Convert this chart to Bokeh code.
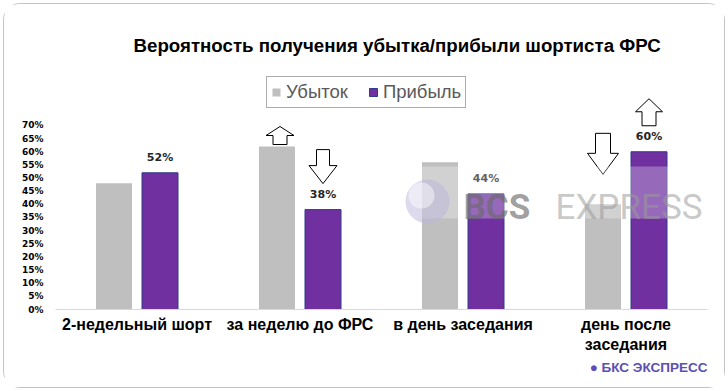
from bokeh.plotting import figure
from bokeh.models import (ColumnDataSource, FactorRange, Range1d, FixedTicker,
                          NumeralTickFormatter, Legend, LegendItem, Title)
from bokeh.transform import dodge
from bokeh.core.properties import value
from bokeh.embed import file_html
from bokeh.resources import INLINE

# ---------------- data ----------------
title_text = "Вероятность получения убытка/прибыли шортиста ФРС"
categories = ["2-недельный шорт", "за неделю до ФРС", "в день заседания", "день после\nзаседания"]
series_names = ["Убыток", "Прибыль"]
loss = [0.48, 0.62, 0.56, 0.40]
profit = [0.52, 0.38, 0.44, 0.60]
profit_labels = ["52%", "38%", "44%", "60%"]
y_ticks = [0.0, 0.05, 0.10, 0.15, 0.20, 0.25, 0.30, 0.35, 0.40, 0.45, 0.50, 0.55, 0.60, 0.65, 0.70]
# arrows: (category index, series, direction)
arrow_marks = [(1, "loss", "up"), (1, "profit", "down"), (3, "loss", "down"), (3, "profit", "up")]
watermark_words = ["BCS", "EXPRESS"]
brand_text = "● БКС ЭКСПРЕСС"

# ---------------- layout ----------------
M = 4                            # css margin around the figure
W, H = 728 - 2 * M, 391 - 2 * M
BL, BT = 55 - M, 60 - M
FW = 652
BR = W - BL - FW
BB = H - (309 - M)
FH = H - BT - BB
PX_Y = 262.9                     # pixels per 1.0 (100%)
PX_X = FW / len(categories)      # pixels per category
Y_END = FH / PX_Y
X0, Y0 = 55, 309                 # frame left / bottom in page pixels

def dx(px):
    return px / PX_X

def dy(px):
    return px / PX_Y

GREY = "#BFBFBF"
PURPLE = "#7030A0"
OFF = dx(23)
BAR_W = dx(36)

src = ColumnDataSource(dict(cat=categories, loss=loss, profit=profit, lbl=profit_labels))

p = figure(width=W, height=H, x_range=FactorRange(*categories, range_padding=0),
           y_range=Range1d(0, Y_END), output_backend="svg", toolbar_location=None,
           min_border_left=BL, min_border_right=BR, min_border_top=BT, min_border_bottom=BB)
p.x_range.range_padding = 0
p.background_fill_color = "white"
p.border_fill_color = "white"
p.outline_line_color = None
p.xgrid.visible = False
p.ygrid.visible = False
p.styles = {"margin": f"{M}px", "outline": "1px solid #C4C4C4", "outline-offset": "0px",
            "border-radius": "16px"}

r_loss = p.vbar(x=dodge("cat", -OFF, range=p.x_range), top="loss", width=BAR_W, source=src,
                fill_color=GREY, line_color=None)
r_profit = p.vbar(x=dodge("cat", OFF, range=p.x_range), top="profit", width=BAR_W, source=src,
                  fill_color=PURPLE, line_color="#2F3C8C", line_width=1)

p.text(x=dodge("cat", OFF, range=p.x_range), y="profit", text="lbl", source=src,
       y_offset=-15, text_align="center", text_baseline="middle",
       text_font=value("DejaVu Sans"), text_font_style="bold", text_font_size="11px",
       text_color="#262626")

# arrows
arrow_style = {
    (1, "loss"): dict(gap=2, L=18, Hh=9, Wh=28, Ws=14, sx=3),
    (1, "profit"): dict(gap=26, L=34, Hh=18, Wh=28, Ws=13, sx=0),
    (3, "loss"): dict(gap=30, L=41, Hh=21, Wh=31, Ws=15, sx=0),
    (3, "profit"): dict(gap=26, L=27, Hh=13, Wh=27, Ws=14, sx=0),
}
xs, ys = [], []
for ci, ser, direction in arrow_marks:
    st = arrow_style[(ci, ser)]
    xc = ci + 0.5 + (-OFF if ser == "loss" else OFF) + dx(st["sx"])
    top = loss[ci] if ser == "loss" else profit[ci]
    L, Hh, Wh, Ws = st["L"], st["Hh"], st["Wh"], st["Ws"]
    yb = top + dy(st["gap"])
    if direction == "up":
        pts = [(-Ws / 2, 0), (Ws / 2, 0), (Ws / 2, L - Hh), (Wh / 2, L - Hh), (0, L),
               (-Wh / 2, L - Hh), (-Ws / 2, L - Hh)]
    else:
        pts = [(0, 0), (Wh / 2, Hh), (Ws / 2, Hh), (Ws / 2, L), (-Ws / 2, L),
               (-Ws / 2, Hh), (-Wh / 2, Hh)]
    xs.append([xc + dx(a) for a, b in pts])
    ys.append([yb + dy(b) for a, b in pts])
p.patches(xs, ys, fill_color="white", line_color="black", line_width=1)

# watermark
p.quad(left=dx(395 - X0), right=len(categories), bottom=dy(Y0 - 218), top=dy(Y0 - 166),
       fill_color="white", fill_alpha=0.28, line_color=None)
p.scatter(x=[dx(427 - X0)], y=[dy(Y0 - 201)], size=44, marker="circle",
          fill_color="#BDB6DD", fill_alpha=0.5, line_color=None)
p.scatter(x=[dx(421 - X0)], y=[dy(Y0 - 195)], size=26, marker="circle",
          fill_color="white", fill_alpha=0.45, line_color=None)
p.text(x=[dx(463 - X0)], y=[dy(Y0 - 207)], text=[watermark_words[0]],
       text_font=value("Roboto"), text_font_style="bold", text_font_size="35px",
       text_color="#6A6A6A", text_alpha=0.65, text_baseline="alphabetic")
p.text(x=[dx(555 - X0)], y=[dy(Y0 - 207)], text=[watermark_words[1]],
       text_font=value("Roboto"), text_font_style="normal", text_font_size="35px",
       text_color="#9A9A9A", text_alpha=0.55, text_baseline="alphabetic")

# axes
p.yaxis.ticker = FixedTicker(ticks=y_ticks)
p.yaxis.formatter = NumeralTickFormatter(format="0%")
p.yaxis.axis_line_color = None
p.yaxis.major_tick_line_color = None
p.yaxis.minor_tick_line_color = None
p.yaxis.major_tick_out = 0
p.yaxis.major_label_standoff = 12
p.yaxis.major_label_text_font = "DejaVu Sans"
p.yaxis.major_label_text_font_style = "bold"
p.yaxis.major_label_text_font_size = "9px"
p.yaxis.major_label_text_color = "black"

p.xaxis.axis_line_color = "#D9D9D9"
p.xaxis.axis_line_width = 1
p.xaxis.major_tick_line_color = None
p.xaxis.minor_tick_line_color = None
p.xaxis.major_tick_out = 0
p.xaxis.major_label_standoff = 6
p.xaxis.major_label_text_font = "Liberation Sans"
p.xaxis.major_label_text_font_style = "bold"
p.xaxis.major_label_text_font_size = "16px"
p.xaxis.major_label_text_color = "black"

# title
p.add_layout(Title(text=title_text, align="left", offset=78, text_font="Liberation Sans",
                   text_font_style="bold", text_font_size="18.7px", text_color="black"), "above")

# brand mark bottom right
p.add_layout(Title(text=brand_text, align="right", offset=0, text_font="Liberation Sans",
                   text_font_style="bold", text_font_size="13.5px", text_color="#5B4FB5",
                   standoff=4), "below")

# legend
legend = Legend(items=[LegendItem(label=series_names[0], renderers=[r_loss]),
                       LegendItem(label=series_names[1], renderers=[r_profit])],
                location=(366 - X0 - 100, Y0 - 108), orientation="horizontal",
                glyph_width=10, glyph_height=10, label_standoff=5, spacing=20,
                padding=4, margin=0, label_height=16,
                label_text_font="Liberation Sans", label_text_font_size="18.5px",
                label_text_color="#595959",
                border_line_color="#595959", border_line_width=1.5,
                background_fill_color="white", background_fill_alpha=1)
p.add_layout(legend, "center")

open("out.html", "w").write(file_html(p, INLINE))
